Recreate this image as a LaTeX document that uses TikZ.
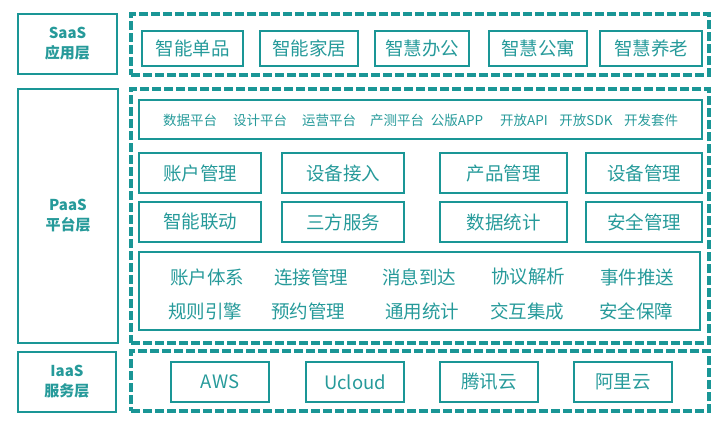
\documentclass[tikz,border=0pt]{standalone}
\usepackage{fontspec}
\setmainfont{Noto Sans CJK SC}
\definecolor{tl}{RGB}{26,150,150}
\definecolor{tt}{RGB}{38,154,154}
\tikzset{
  lblbox/.style={draw=tl,line width=2.2pt,inner sep=0pt,text=tt,align=center,
     font=\fontsize{15}{20}\selectfont\bfseries},
  dbox/.style={draw=tl,line width=3.2pt,dash pattern=on 9pt off 3pt,inner sep=0pt},
  ibox/.style={draw=tl,line width=2pt,inner sep=0pt,text=tt,font=\fontsize{18.5}{22}\selectfont},
  bigtxt/.style={inner sep=0pt,text=tt,font=\fontsize{18.5}{22}\selectfont},
  smalltxt/.style={inner sep=0pt,text=tt,font=\fontsize{13.5}{16}\selectfont},
}
\begin{document}
\begin{tikzpicture}[x=1pt,y=-1pt]
\useasboundingbox (0,0) rectangle (724,426);
% left labels
\node[lblbox,minimum width=99pt,minimum height=60pt] (l1) at (67.5,44) {SaaS\\应用层};
\node[lblbox,minimum width=100pt,minimum height=254pt] (l2) at (68,216) {PaaS\\平台层};
\node[lblbox,minimum width=98pt,minimum height=60pt] (l3) at (67,382) {IaaS\\服务层};
% dashed containers
\node[dbox,minimum width=578pt,minimum height=61pt] (d1) at (420,44.5) {};
\node[dbox,minimum width=578pt,minimum height=254pt] (d2) at (420,216) {};
\node[dbox,minimum width=578pt,minimum height=60pt] (d3) at (420,381) {};
% SaaS
\node[ibox,minimum width=101pt,minimum height=35pt] (s1) at (192.5,48.5) {智能单品};
\node[ibox,minimum width=98pt,minimum height=35pt] (s2) at (309,48.5) {智能家居};
\node[ibox,minimum width=94pt,minimum height=35pt] (s3) at (422,48.5) {智慧办公};
\node[ibox,minimum width=98pt,minimum height=35pt] (s4) at (538,48.5) {智慧公寓};
\node[ibox,minimum width=102pt,minimum height=35pt] (s5) at (651,48.5) {智慧养老};
% PaaS platforms row
\node[ibox,minimum width=563pt,minimum height=39pt] (p0) at (420.5,119.5) {};
\node[smalltxt] (t1) at (190,120) {数据平台};
\node[smalltxt] (t2) at (260,120) {设计平台};
\node[smalltxt] (t3) at (329,120) {运营平台};
\node[smalltxt] (t4) at (397,120) {产测平台};
\node[smalltxt] (t5) at (457,120) {公版APP};
\node[smalltxt] (t6) at (524,120) {开放API};
\node[smalltxt] (t7) at (586,120) {开放SDK};
\node[smalltxt] (t8) at (651,120) {开发套件};
% PaaS rows
\node[ibox,minimum width=122pt,minimum height=40pt] (a1) at (200,173) {账户管理};
\node[ibox,minimum width=122pt,minimum height=40pt] (b1) at (343,173) {设备接入};
\node[ibox,minimum width=127pt,minimum height=40pt] (c1) at (503.5,173) {产品管理};
\node[ibox,minimum width=116pt,minimum height=40pt] (e1) at (644,173) {设备管理};
\node[ibox,minimum width=122pt,minimum height=40pt] (a2) at (200,222) {智能联动};
\node[ibox,minimum width=122pt,minimum height=40pt] (b2) at (343,222) {三方服务};
\node[ibox,minimum width=127pt,minimum height=40pt] (c2) at (503.5,222) {数据统计};
\node[ibox,minimum width=116pt,minimum height=40pt] (e2) at (644,222) {安全管理};
% big box
\node[ibox,minimum width=561pt,minimum height=78pt] (big) at (419.5,291) {};
\node[bigtxt] (g1) at (207,277) {账户体系};
\node[bigtxt] (g2) at (311,277) {连接管理};
\node[bigtxt] (g3) at (419,277) {消息到达};
\node[bigtxt] (g4) at (528,277) {协议解析};
\node[bigtxt] (g5) at (637,277) {事件推送};
\node[bigtxt] (h1) at (205,311) {规则引擎};
\node[bigtxt] (h2) at (308,311) {预约管理};
\node[bigtxt] (h3) at (422,311) {通用统计};
\node[bigtxt] (h4) at (527,311) {交互集成};
\node[bigtxt] (h5) at (636,311) {安全保障};
% IaaS
\node[ibox,minimum width=98pt,minimum height=40pt] (i1) at (220,382) {AWS};
\node[ibox,minimum width=98pt,minimum height=40pt] (i2) at (355,382) {Ucloud};
\node[ibox,minimum width=98pt,minimum height=40pt] (i3) at (489,382) {腾讯云};
\node[ibox,minimum width=98pt,minimum height=40pt] (i4) at (623,382) {阿里云};
\end{tikzpicture}
\end{document}
